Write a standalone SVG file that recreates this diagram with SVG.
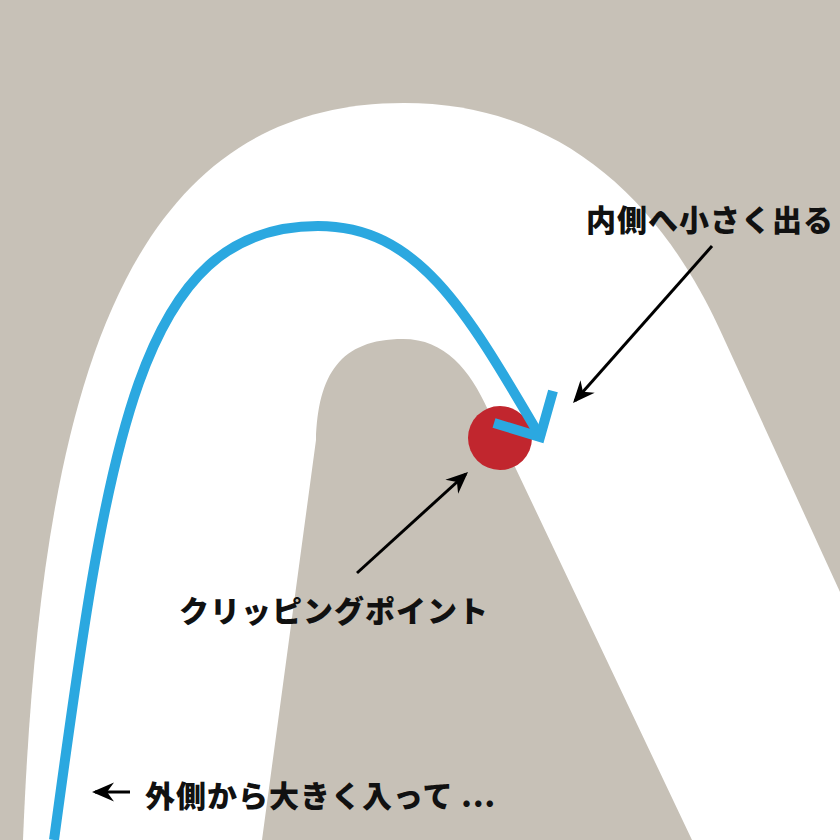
<svg xmlns="http://www.w3.org/2000/svg" width="840" height="840" viewBox="0 0 840 840">
<defs>
<style>
.bg{fill:#c7c1b7}
.road{fill:#ffffff}
.line{fill:none;stroke:#2ba8e0;stroke-width:10}
.ptr{fill:none;stroke:#000;stroke-width:3}
.lbl{font-family:"Noto Sans CJK JP","Noto Sans",sans-serif;font-weight:900;font-size:30px;letter-spacing:1px;fill:#111}
</style>
<marker id="ah" viewBox="-24 -11 27 22" refX="-3" refY="0" markerWidth="27" markerHeight="22" markerUnits="userSpaceOnUse" orient="auto">
<path d="M0,0 L-22,-9.5 L-15,0 L-22,9.5 Z" fill="#000"/>
</marker>
</defs>
<rect class="bg" x="0" y="0" width="840" height="840"/>
<g id="road">
<path class="road" d="M23 840 C40 420 110 103 404 103 C560 103 660 200 720 330 L840 592 L840 840 Z"/>
<path class="bg" d="M262 840 L316 440 C318 375 340 339 403 339 C445 339 470 370 488 410 L692 840 Z"/>
</g>
<g id="clip-point">
<circle cx="500" cy="438" r="32" fill="#c1262e"/>
</g>
<g id="racing-line">
<path class="line" d="M54 840 C108 440 138 226 318 226 C418 226 466 310 541 438"/>
<polyline class="line" points="553,391 540,437 494,423" stroke-linejoin="miter"/>
</g>
<g id="connectors">
<line class="ptr" x1="712" y1="246" x2="575" y2="400.8" marker-end="url(#ah)"/>
<line class="ptr" x1="357" y1="573" x2="465.8" y2="474" marker-end="url(#ah)"/>
<line class="ptr" x1="130" y1="792" x2="95" y2="792" marker-end="url(#ah)"/>
</g>
<g id="label-exit">
<text class="lbl" x="586" y="231">内側へ小さく出る</text>
</g>
<g id="label-clip">
<text class="lbl" x="179" y="622">クリッピングポイント</text>
</g>
<g id="label-entry">
<text class="lbl" x="145" y="807">外側から大きく入って ...</text>
</g>
</svg>
